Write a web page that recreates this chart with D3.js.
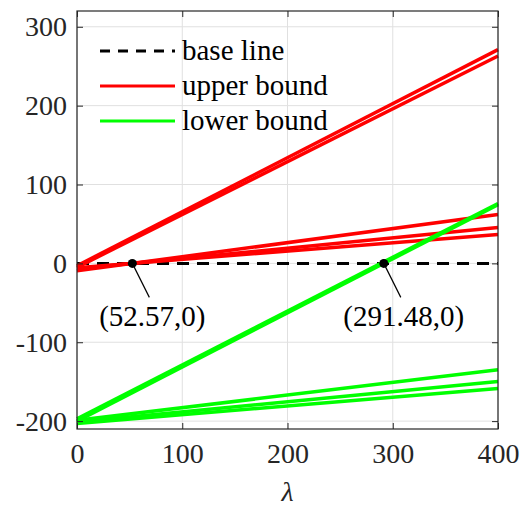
<!DOCTYPE html>
<html>
<head>
<meta charset="utf-8">
<script src="https://cdn.jsdelivr.net/npm/d3@7"></script>
<style>
  body { margin: 0; background: #fff; }
  text { font-family: "Liberation Serif", "Times New Roman", serif; fill: #262626; }
</style>
</head>
<body>
<div id="chart"></div>
<script>
// lambda values at the two ends of each line
var lambdaVals = [0, 400];

// upper bound lines: value at lambda = 0 and lambda = 400
var upperLines = [
  [-3, 271],
  [-5, 263],
  [-9.4, 62],
  [-6.9, 45.6],
  [-5.55, 36.7]
];

// lower bound lines
var lowerLines = [
  [-197, 76],
  [-200, 74.4],
  [-199, -135],
  [-201, -149.8],
  [-203, -158.6]
];

var baseLine = [0, 0];

var crossPoints = [
  { x: 52.57, y: 0, label: "(52.57,0)" },
  { x: 291.48, y: 0, label: "(291.48,0)" }
];

var xTicks = [0, 100, 200, 300, 400];
var yTicks = [-200, -100, 0, 100, 200, 300];

var legendItems = [
  { name: "base line", color: "#000", dash: "10,8" },
  { name: "upper bound", color: "#ff0000", dash: null },
  { name: "lower bound", color: "#00ff00", dash: null }
];

var svgWidth = 521, svgHeight = 507;
var margin = { top: 11, right: 23, bottom: 78, left: 77 };
var plotWidth = svgWidth - margin.left - margin.right;
var plotHeight = svgHeight - margin.top - margin.bottom;

var svg = d3.select("#chart").append("svg")
  .attr("width", svgWidth)
  .attr("height", svgHeight);

var g = svg.append("g")
  .attr("transform", `translate(${margin.left}, ${margin.top})`);

var xScale = d3.scaleLinear().domain([0, 400]).range([0, plotWidth]);
var yScale = d3.scaleLinear().domain([-210, 320]).range([plotHeight, 0]);

// grid
g.append("g").selectAll("line").data(xTicks).enter().append("line")
  .attr("x1", d => xScale(d)).attr("x2", d => xScale(d))
  .attr("y1", 0).attr("y2", plotHeight)
  .attr("stroke", "#e0e0e0").attr("stroke-width", 1);
g.append("g").selectAll("line").data(yTicks).enter().append("line")
  .attr("y1", d => yScale(d)).attr("y2", d => yScale(d))
  .attr("x1", 0).attr("x2", plotWidth)
  .attr("stroke", "#e0e0e0").attr("stroke-width", 1);

var line = d3.line()
  .x((d, i) => xScale(lambdaVals[i]))
  .y(d => yScale(d));

// base line
g.append("path")
  .datum(baseLine)
  .attr("d", line)
  .attr("fill", "none")
  .attr("stroke", "#000")
  .attr("stroke-width", 3)
  .attr("stroke-dasharray", "12,8");

// upper bound
g.append("g").selectAll("path").data(upperLines).enter().append("path")
  .attr("d", line)
  .attr("fill", "none")
  .attr("stroke", "#ff0000")
  .attr("stroke-width", 3.5);

// lower bound
g.append("g").selectAll("path").data(lowerLines).enter().append("path")
  .attr("d", line)
  .attr("fill", "none")
  .attr("stroke", "#00ff00")
  .attr("stroke-width", 3.5);

// crossing points with callouts
var pts = g.append("g").selectAll("g").data(crossPoints).enter().append("g");
pts.append("line")
  .attr("x1", d => xScale(d.x)).attr("y1", d => yScale(d.y))
  .attr("x2", d => xScale(d.x) + 17).attr("y2", d => yScale(d.y) + 34)
  .attr("stroke", "#000").attr("stroke-width", 1.2);
pts.append("circle")
  .attr("cx", d => xScale(d.x)).attr("cy", d => yScale(d.y))
  .attr("r", 4.5).attr("fill", "#000");
pts.append("text")
  .attr("x", d => xScale(d.x) + 20)
  .attr("y", d => yScale(d.y) + 63)
  .attr("text-anchor", "middle")
  .attr("font-size", 29)
  .style("fill", "#000")
  .text(d => d.label);

// axes
var bottomAxis = d3.axisBottom(xScale).tickValues(xTicks).tickSizeInner(-6).tickSizeOuter(0).tickPadding(14).tickFormat(d => String(d));
var leftAxis = d3.axisLeft(yScale).tickValues(yTicks).tickSizeInner(-6).tickSizeOuter(0).tickPadding(10).tickFormat(d => String(d));
var topAxis = d3.axisTop(xScale).tickValues(xTicks).tickSizeInner(-6).tickSizeOuter(0).tickFormat("");
var rightAxis = d3.axisRight(yScale).tickValues(yTicks).tickSizeInner(-6).tickSizeOuter(0).tickFormat("");

var xAxis = g.append("g").attr("transform", `translate(0, ${plotHeight})`).call(bottomAxis);
var yAxis = g.append("g").call(leftAxis);
g.append("g").call(topAxis);
g.append("g").attr("transform", `translate(${plotWidth}, 0)`).call(rightAxis);

g.selectAll(".domain").remove();
g.selectAll(".tick line").attr("stroke", "#262626");
xAxis.selectAll("text").attr("font-size", 28).attr("font-family", "Liberation Serif").attr("dy", "0.71em");
yAxis.selectAll("text").attr("font-size", 28).attr("font-family", "Liberation Serif");

// box
g.append("rect")
  .attr("width", plotWidth).attr("height", plotHeight)
  .attr("fill", "none").attr("stroke", "#262626").attr("stroke-width", 1.2);

// x label
g.append("text")
  .attr("x", plotWidth / 2)
  .attr("y", plotHeight + 72)
  .attr("text-anchor", "middle")
  .attr("font-size", 28)
  .attr("font-style", "italic")
  .text("\u03bb");

// legend
var legend = g.append("g").attr("transform", "translate(23, 40)");
var li = legend.selectAll("g").data(legendItems).enter().append("g")
  .attr("transform", (d, i) => `translate(0, ${i * 35})`);
li.append("line")
  .attr("x1", 0).attr("x2", 75).attr("y1", 0).attr("y2", 0)
  .attr("stroke", d => d.color)
  .attr("stroke-width", 3)
  .attr("stroke-dasharray", d => d.dash);
li.append("text")
  .attr("x", 82).attr("y", 0).attr("dy", "0.32em")
  .attr("font-size", 29)
  .style("fill", "#000")
  .text(d => d.name);
</script>
</body>
</html>
